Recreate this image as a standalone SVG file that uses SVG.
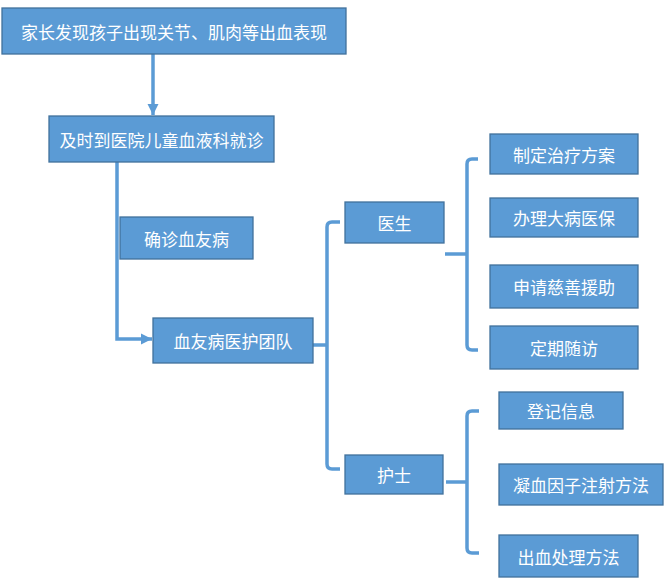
<svg xmlns="http://www.w3.org/2000/svg" width="671" height="583" viewBox="0 0 671 583">
<style>
.box{fill:#5B9BD5;stroke:#41719C;stroke-width:1.3}
.t{fill:#FFFFFF;font-family:"Noto Sans CJK SC","Liberation Sans",sans-serif;font-size:17px;text-anchor:middle;dominant-baseline:central}
.ln{fill:none;stroke:#5B9BD5;stroke-width:3.5}
</style>
<defs>
<marker id="ah" viewBox="0 0 10 10" refX="10" refY="5" markerWidth="3.2" markerHeight="3.2" orient="auto" markerUnits="strokeWidth">
<path d="M0,0 L10,5 L0,10 Z" fill="#5B9BD5"/>
</marker>
</defs>
<rect width="671" height="583" fill="#FFFFFF"/>
<g id="connectors">
<path class="ln" d="M153,54 V115" marker-end="url(#ah)"/>
<path class="ln" d="M117,162 V339 H152" marker-end="url(#ah)"/>
<path class="ln" d="M313,345 H327"/>
<path class="ln" d="M340,222 H332 Q327,222 327,227 V464 Q327,469 332,469 H340"/>
<path class="ln" d="M445,254 H467"/>
<path class="ln" d="M478,159 H472 Q467,159 467,164 V345 Q467,350 472,350 H478"/>
<path class="ln" d="M446,482 H467"/>
<path class="ln" d="M479,411 H472 Q467,411 467,416 V548 Q467,553 472,553 H479"/>
</g>
<g id="n1"><rect class="box" x="2" y="8" width="344" height="46"/><text class="t" x="174" y="31">家长发现孩子出现关节、肌肉等出血表现</text></g>
<g id="n2"><rect class="box" x="49" y="116" width="225" height="46"/><text class="t" x="161.5" y="139">及时到医院儿童血液科就诊</text></g>
<g id="n3"><rect class="box" x="120" y="217" width="133" height="42"/><text class="t" x="186.5" y="238">确诊血友病</text></g>
<g id="n4"><rect class="box" x="153" y="318" width="160" height="45"/><text class="t" x="233" y="340.5">血友病医护团队</text></g>
<g id="n5"><rect class="box" x="345" y="202" width="99" height="41"/><text class="t" x="394.5" y="222.5">医生</text></g>
<g id="n6"><rect class="box" x="345" y="455" width="98" height="39"/><text class="t" x="394" y="474.5">护士</text></g>
<g id="n7"><rect class="box" x="490" y="134" width="148" height="40"/><text class="t" x="564" y="154">制定治疗方案</text></g>
<g id="n8"><rect class="box" x="490" y="198" width="148" height="39"/><text class="t" x="564" y="217.5">办理大病医保</text></g>
<g id="n9"><rect class="box" x="490" y="265" width="148" height="43"/><text class="t" x="564" y="286.5">申请慈善援助</text></g>
<g id="n10"><rect class="box" x="490" y="326" width="148" height="43"/><text class="t" x="564" y="347.5">定期随访</text></g>
<g id="n11"><rect class="box" x="499" y="392" width="124" height="37"/><text class="t" x="561" y="410.5">登记信息</text></g>
<g id="n12"><rect class="box" x="499" y="464" width="164" height="41"/><text class="t" x="581" y="484.5">凝血因子注射方法</text></g>
<g id="n13"><rect class="box" x="499" y="535" width="139" height="42"/><text class="t" x="568.5" y="556">出血处理方法</text></g>
</svg>
